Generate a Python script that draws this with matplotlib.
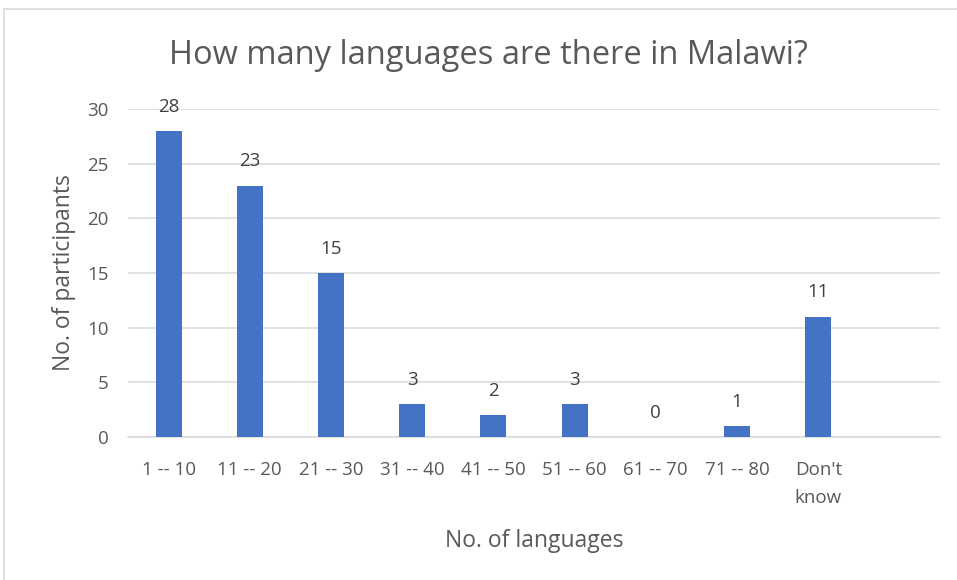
import matplotlib
matplotlib.use("Agg")
import matplotlib.pyplot as plt
from matplotlib.patches import Rectangle

categories = ["1 -- 10", "11 -- 20", "21 -- 30", "31 -- 40", "41 -- 50",
              "51 -- 60", "61 -- 70", "71 -- 80", "Don't\nknow", ""]
participants = [28, 23, 15, 3, 2, 3, 0, 1, 11, None]
y_ticks = [0, 5, 10, 15, 20, 25, 30]

TEXT = "#595959"
GRID = "#d9d9d9"
BAR = "#4472c4"
plt.rcParams["font.family"] = ["Open Sans", "DejaVu Sans"]

fig = plt.figure(figsize=(9.57, 5.8), dpi=100)
fig.patches.append(Rectangle((4 / 957, -0.01), 1.0, 1 - 9 / 580 + 0.01,
                             transform=fig.transFigure, fill=False,
                             edgecolor="#d9d9d9", linewidth=1.2))

ax = fig.add_axes([128 / 957, 1 - 437 / 580, 812 / 957, 328 / 580])

xs = list(range(len(categories)))
vals = [v for v in participants if v is not None]
bar_x = xs[:len(vals)]
ax.bar(bar_x, vals, width=0.32, color=BAR, zorder=3)
for x, v in zip(bar_x, vals):
    ax.annotate(str(v), (x, v), xytext=(0, 11), textcoords="offset points",
                ha="center", va="bottom", fontsize=13.5, color="#404040")

ax.set_xlim(-0.5, len(categories) - 0.5)
ax.set_ylim(0, 30)
ax.set_yticks(y_ticks)
ax.set_xticks(xs)
ax.set_xticklabels(categories, linespacing=1.75)
ax.tick_params(axis="both", length=0, labelsize=13.5, colors=TEXT)
ax.tick_params(axis="x", pad=17)
ax.tick_params(axis="y", pad=14)
ax.grid(axis="y", color=GRID, linewidth=1.1, zorder=0)
for s in ["top", "right", "left"]:
    ax.spines[s].set_visible(False)
ax.spines["bottom"].set_color(GRID)
ax.spines["bottom"].set_linewidth(1.1)

ax.set_xlabel("No. of languages", fontsize=16.5, color=TEXT, labelpad=16)
ax.set_ylabel("No. of participants", fontsize=16.5, color=TEXT, labelpad=8)
fig.text(488 / 957, 1 - 55 / 580, "How many languages are there in Malawi?",
         ha="center", va="center", fontsize=23.5, color=TEXT)

fig.savefig("out.png", dpi=100, facecolor="white")
